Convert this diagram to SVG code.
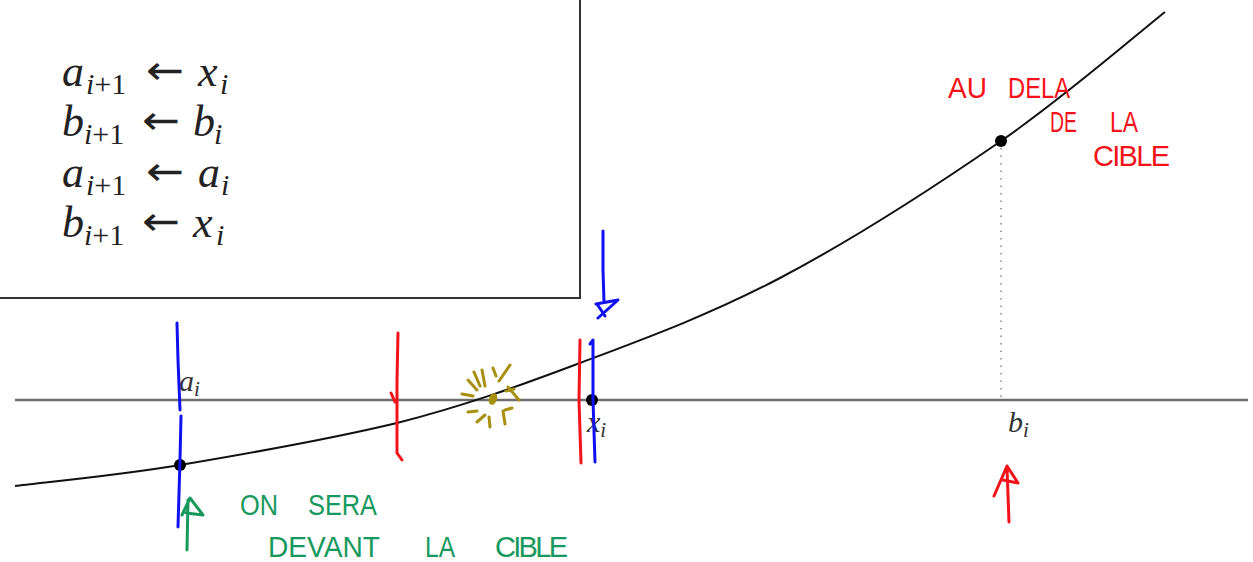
<svg xmlns="http://www.w3.org/2000/svg" width="1253" height="562" viewBox="0 0 1253 562">
<style>
.m{font-family:"Liberation Serif","DejaVu Serif",serif;font-size:44px;fill:#222}
.it{font-style:italic}
.sb{font-size:30px}
.ar{font-family:"DejaVu Sans",sans-serif;font-size:40px}
.lab{font-family:"Liberation Serif","DejaVu Serif",serif;font-size:30px;font-style:italic;fill:#333}
.hw{font-family:"Liberation Sans","DejaVu Sans",sans-serif;font-size:29px}
.red{stroke:#f4121a;fill:none;stroke-width:3;stroke-linecap:round;stroke-linejoin:round}
.blue{stroke:#1010f0;fill:none;stroke-width:3;stroke-linecap:round;stroke-linejoin:round}
.green{stroke:#17995e;fill:none;stroke-width:3;stroke-linecap:round;stroke-linejoin:round}
.gold{stroke:#a8900f;fill:none;stroke-width:3;stroke-linecap:round}
.pt{fill:#000}
</style>
<rect width="1253" height="562" fill="#fff"/>
<g id="box">
<path d="M0,298 L580,298 L580,0" fill="none" stroke="#333" stroke-width="2"/>
</g>
<g id="equations">
<text class="m"><tspan class="it" x="62" y="86">a</tspan><tspan class="sb it" x="86" y="94">i</tspan><tspan class="sb">+1</tspan><tspan class="ar" x="146" y="84" textLength="38" lengthAdjust="spacingAndGlyphs">←</tspan><tspan class="it" x="198" y="86">x</tspan><tspan class="sb it" x="220" y="94">i</tspan></text>
<text class="m"><tspan class="it" x="62" y="136">b</tspan><tspan class="sb it" x="84" y="144">i</tspan><tspan class="sb">+1</tspan><tspan class="ar" x="142" y="134" textLength="38" lengthAdjust="spacingAndGlyphs">←</tspan><tspan class="it" x="193" y="136">b</tspan><tspan class="sb it" x="214" y="144">i</tspan></text>
<text class="m"><tspan class="it" x="62" y="187">a</tspan><tspan class="sb it" x="86" y="195">i</tspan><tspan class="sb">+1</tspan><tspan class="ar" x="146" y="185" textLength="38" lengthAdjust="spacingAndGlyphs">←</tspan><tspan class="it" x="198" y="187">a</tspan><tspan class="sb it" x="221" y="195">i</tspan></text>
<text class="m"><tspan class="it" x="62" y="237">b</tspan><tspan class="sb it" x="84" y="245">i</tspan><tspan class="sb">+1</tspan><tspan class="ar" x="142" y="235" textLength="38" lengthAdjust="spacingAndGlyphs">←</tspan><tspan class="it" x="193" y="237">x</tspan><tspan class="sb it" x="216" y="245">i</tspan></text>
</g>
<g id="axis">
<line x1="15" y1="400" x2="1248" y2="400" stroke="#6e6e6e" stroke-width="2.5"/>
</g>
<g id="curve">
<path d="M15,486 C42.5,482.5 116.3,475.7 180,465 C243.7,454.3 330.3,439 397,423 C463.7,406 516.2,387 580,363 C643.8,339 709.8,315 780,278 C850.2,241 936.8,185.3 1001,141 C1065.2,96.7 1137.7,33.5 1165,12" fill="none" stroke="#111" stroke-width="2"/>
<line x1="1001" y1="148" x2="1001" y2="400" stroke="#888" stroke-width="1.5" stroke-dasharray="1.5,6"/>
</g>
<g id="points">
<circle class="pt" cx="180" cy="465" r="6"/>
<circle class="pt" cx="592" cy="400" r="6"/>
<circle class="pt" cx="1001" cy="141" r="6"/>
</g>
<g id="labels">
<text class="lab" x="179" y="391">a<tspan font-size="21" dy="5">i</tspan></text>
<text class="lab" x="587" y="432">x<tspan font-size="21" dy="5">i</tspan></text>
<text class="lab" x="1008" y="432">b<tspan font-size="21" dy="5">i</tspan></text>
</g>
<g id="annotations">
<path class="blue" d="M177,323 L178,360 L180,410 M181,416 L180,460 L178,527"/>
<path class="red" d="M398,333 L397,380 L397,453 L402,460 M391,393 L395,402"/>
<path class="red" d="M580,340 L579,400 L581,463"/>
<path class="blue" d="M590,344 L593,340 L593,400 L595,462"/>
<path class="blue" d="M603,231 L603,270 L604,302 M596,304 L618,300 L598,318 M597,304 L605,316"/>
<path class="red" d="M1009,522 L1007,468 M994,496 L1007,466 L1018,483 L1003,480"/>
<path class="green" d="M187,550 L188,500 M182,515 L190,498 L203,515 L186,513"/>
<g id="sparkle">
<ellipse cx="493" cy="399" rx="4" ry="6" transform="rotate(20 493 399)" fill="#a8900f"/>
<path class="gold" d="M462,394 L473,396 M468,380 L477,390 M474,372 L480,386 M482,370 L485,386 M493,368 L496,376 M510,365 L499,381 M508,387 L519,400 M506,391 L514,389 M468,412 L477,411 M477,422 L485,415 M489,417 L490,427 M503,411 L505,424 M505,410 L512,408"/>
</g>
<text class="hw" fill="#f4121a"><tspan x="948" y="98" textLength="39" lengthAdjust="spacingAndGlyphs">AU</tspan><tspan x="1008" y="98" textLength="62" lengthAdjust="spacingAndGlyphs">DELA</tspan></text>
<text class="hw" fill="#f4121a"><tspan x="1050" y="132" textLength="27" lengthAdjust="spacingAndGlyphs">DE</tspan><tspan x="1110" y="132" textLength="28" lengthAdjust="spacingAndGlyphs">LA</tspan></text>
<text class="hw" fill="#f4121a" x="1093" y="166" textLength="77" lengthAdjust="spacing" font-size="26">CIBLE</text>
<text class="hw" fill="#17995e" font-size="26"><tspan x="240" y="515" textLength="38" lengthAdjust="spacingAndGlyphs">ON</tspan><tspan x="308" y="515" textLength="69" lengthAdjust="spacingAndGlyphs">SERA</tspan></text>
<text class="hw" fill="#17995e" font-size="29"><tspan x="268" y="557" textLength="112" lengthAdjust="spacingAndGlyphs">DEVANT</tspan><tspan x="425" y="557" textLength="30" lengthAdjust="spacingAndGlyphs">LA</tspan><tspan x="495" y="557" textLength="73" lengthAdjust="spacing">CIBLE</tspan></text>
</g>
</svg>
